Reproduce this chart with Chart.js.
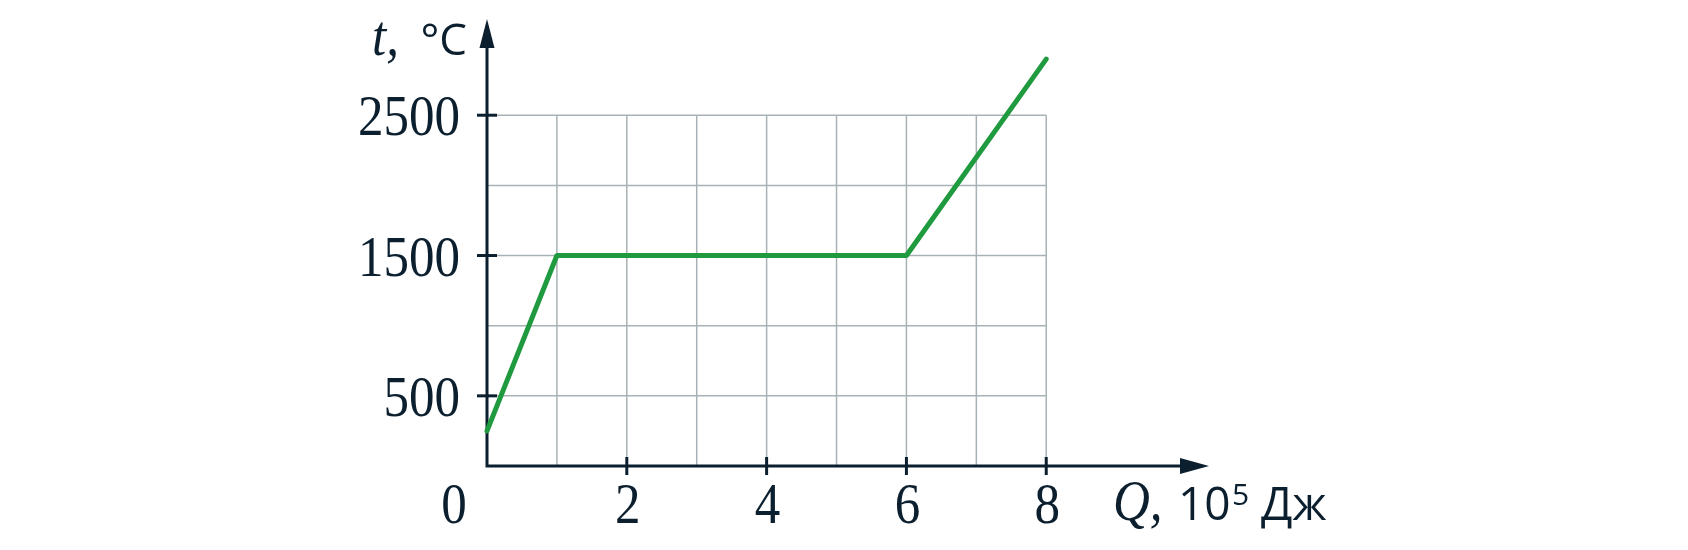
<!DOCTYPE html>
<html>
<head>
<meta charset="utf-8">
<script src="https://cdn.jsdelivr.net/npm/chart.js@4"></script>
<style>
  body { margin: 0; background: #fff; }
  #wrap { width: 1688px; height: 550px; }
</style>
</head>
<body>
<div id="wrap"><canvas id="myChart" width="1688" height="550"></canvas></div>
<script>
// heating curve: Q in 10^5 J, t in °C
const heatQ = [0, 1, 6, 8];
const tempC = [250, 1500, 1500, 2900];

const xTicks = [2, 4, 6, 8];
const yTicks = [500, 1500, 2500];
const gridX = [1, 2, 3, 4, 5, 6, 7, 8];
const gridY = [500, 1000, 1500, 2000, 2500];

const ink = "#0b1f2e";
const green = "#1f9a3f";
const gridColor = "#a8b2b6";
const serif = "'Liberation Serif', 'DejaVu Serif', serif";
const sans = "'Open Sans', 'Noto Sans', sans-serif";

// serif numbers in the picture are narrower than Liberation Serif
function narrowText(ctx, txt, x, y, align) {
  const sx = 0.88;
  ctx.save();
  ctx.translate(x, y);
  ctx.scale(sx, 1);
  ctx.textAlign = align;
  ctx.fillText(txt, 0, 0);
  ctx.restore();
}

// grid, axes, arrows, ticks and labels
const axesPlugin = {
  id: "axesPlugin",
  beforeDatasetsDraw(chart) {
    const ctx = chart.ctx;
    const xs = chart.scales.x;
    const ys = chart.scales.y;
    const x0 = xs.getPixelForValue(0);
    const y0 = ys.getPixelForValue(0);
    const gxMax = xs.getPixelForValue(gridX[gridX.length - 1]);
    const gyMax = ys.getPixelForValue(gridY[gridY.length - 1]);

    ctx.save();
    ctx.strokeStyle = gridColor;
    ctx.lineWidth = 1.5;
    gridX.forEach(v => {
      const px = xs.getPixelForValue(v);
      ctx.beginPath();
      ctx.moveTo(px, y0);
      ctx.lineTo(px, gyMax);
      ctx.stroke();
    });
    gridY.forEach(v => {
      const py = ys.getPixelForValue(v);
      ctx.beginPath();
      ctx.moveTo(x0, py);
      ctx.lineTo(gxMax, py);
      ctx.stroke();
    });

    // axes
    ctx.strokeStyle = ink;
    ctx.fillStyle = ink;
    ctx.lineWidth = 3;
    const xTip = 1209, yTip = 19;
    ctx.beginPath();
    ctx.moveTo(x0, y0);
    ctx.lineTo(xTip - 20, y0);
    ctx.moveTo(x0, y0 + 1.5);
    ctx.lineTo(x0, yTip + 20);
    ctx.stroke();

    // arrow heads
    ctx.beginPath();
    ctx.moveTo(xTip, y0);
    ctx.lineTo(xTip - 29, y0 - 8);
    ctx.lineTo(xTip - 29, y0 + 8);
    ctx.closePath();
    ctx.fill();
    ctx.beginPath();
    ctx.moveTo(x0, yTip);
    ctx.lineTo(x0 - 7.5, yTip + 29);
    ctx.lineTo(x0 + 7.5, yTip + 29);
    ctx.closePath();
    ctx.fill();

    // tick marks
    ctx.lineWidth = 3;
    xTicks.forEach(v => {
      const px = xs.getPixelForValue(v);
      ctx.beginPath();
      ctx.moveTo(px, y0 - 9);
      ctx.lineTo(px, y0 + 9);
      ctx.stroke();
    });
    yTicks.forEach(v => {
      const py = ys.getPixelForValue(v);
      ctx.beginPath();
      ctx.moveTo(x0 - 10, py);
      ctx.lineTo(x0 + 10, py);
      ctx.stroke();
    });

    // tick labels
    ctx.font = "58px " + serif;
    ctx.textBaseline = "alphabetic";
    narrowText(ctx, "0", x0 - 33, y0 + 57, "center");
    xTicks.forEach(v => {
      narrowText(ctx, String(v), xs.getPixelForValue(v) + 1, y0 + 57, "center");
    });
    yTicks.forEach(v => {
      narrowText(ctx, String(v), x0 - 27, ys.getPixelForValue(v) + 20, "right");
    });

    // axis titles
    ctx.font = "italic 58px " + serif;
    narrowText(ctx, "t,", 372, 55, "left");
    ctx.font = "44px " + sans;
    ctx.textAlign = "right";
    ctx.fillText("°C", 467, 55);

    ctx.font = "italic 58px " + serif;
    narrowText(ctx, "Q,", 1113, 520, "left");
    ctx.textAlign = "left";
    ctx.font = "46px " + sans;
    ctx.fillText("10", 1178, 520);
    ctx.font = "30px " + sans;
    ctx.fillText("5", 1232, 505);
    ctx.font = "46px " + sans;
    ctx.fillText("Дж", 1261, 520);
    ctx.restore();
  }
};

const ctx = document.getElementById("myChart").getContext("2d");
const myChart = new Chart(ctx, {
  type: "line",
  data: {
    datasets: [
      {
        data: heatQ.map((q, i) => ({ x: q, y: tempC[i] })),
        borderColor: green,
        borderWidth: 5,
        borderCapStyle: "round",
        borderJoinStyle: "round",
        pointRadius: 0,
        fill: false,
        tension: 0,
        clip: false,
      },
    ],
  },
  options: {
    responsive: false,
    animation: false,
    layout: { padding: { left: 487, right: 474, top: 17, bottom: 84 } },
    plugins: { legend: { display: false }, tooltip: { enabled: false } },
    scales: {
      x: { type: "linear", min: 0, max: 10.4, display: false },
      y: { type: "linear", min: 0, max: 3200, display: false },
    },
  },
  plugins: [axesPlugin],
});
</script>
</body>
</html>
